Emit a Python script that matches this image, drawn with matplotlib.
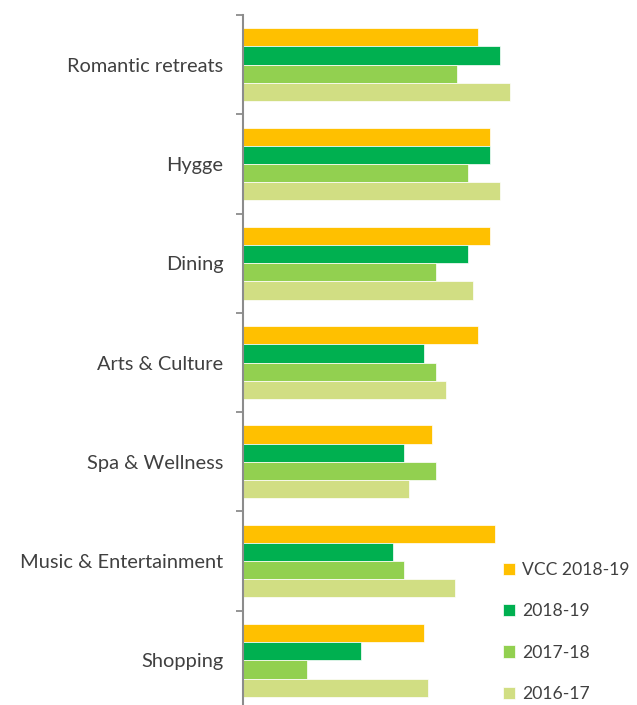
import numpy as np
import matplotlib.pyplot as plt

plt.rcParams['font.family'] = ['Lato', 'DejaVu Sans']

# Categories and scores per season
categories = ['Romantic retreats', 'Hygge', 'Dining', 'Arts & Culture',
              'Spa & Wellness', 'Music & Entertainment', 'Shopping']
series_names = ['VCC 2018-19', '2018-19', '2017-18', '2016-17']
vcc_2018_19 = [58.8, 61.8, 61.8, 58.8, 47.3, 63.0, 45.3]
s_2018_19 = [64.3, 61.8, 56.3, 45.3, 40.3, 37.5, 29.5]
s_2017_18 = [53.5, 56.3, 48.3, 48.3, 48.3, 40.3, 16.0]
s_2016_17 = [66.8, 64.3, 57.5, 50.8, 41.5, 53.0, 46.3]
colors = ['#FFC000', '#00B050', '#92D050', '#D1DE83']

fig = plt.figure(figsize=(6.37, 7.05), dpi=100)
ax = fig.add_axes([243 / 637, -5 / 705, 394 / 637, 695 / 705])

y = np.arange(len(categories))
h = 0.183
all_series = [vcc_2018_19, s_2018_19, s_2017_18, s_2016_17]
for k, (vals, name, c) in enumerate(zip(all_series, series_names, colors)):
    ax.barh(y + (k - 1.5) * h, vals, height=h, color=c, label=name,
            edgecolor='white', linewidth=0.5)

ax.set_xlim(0, 98.5)
ax.set_ylim(len(categories) - 0.5, -0.5)

# tick marks between groups, labels at group centres
ax.set_yticks(np.arange(-0.5, len(categories), 1.0))
ax.set_yticklabels([])
ax.set_yticks(y, minor=True)
ax.set_yticklabels(categories, minor=True, fontsize=14.4, color='#404040')
ax.tick_params(axis='y', which='major', length=5, width=1.3, color='#8c8c8c')
ax.tick_params(axis='y', which='minor', length=0, pad=14)
ax.set_xticks([])

for s in ['top', 'right', 'bottom']:
    ax.spines[s].set_visible(False)
ax.spines['left'].set_color('#8c8c8c')
ax.spines['left'].set_linewidth(1.5)

ax.legend(loc='lower left', bbox_to_anchor=(0.62, -0.011), frameon=False,
          fontsize=12.6, handlelength=0.7, handleheight=0.7,
          handletextpad=0.4, labelspacing=1.45, labelcolor='#404040')

plt.savefig('out.png', dpi=100)
